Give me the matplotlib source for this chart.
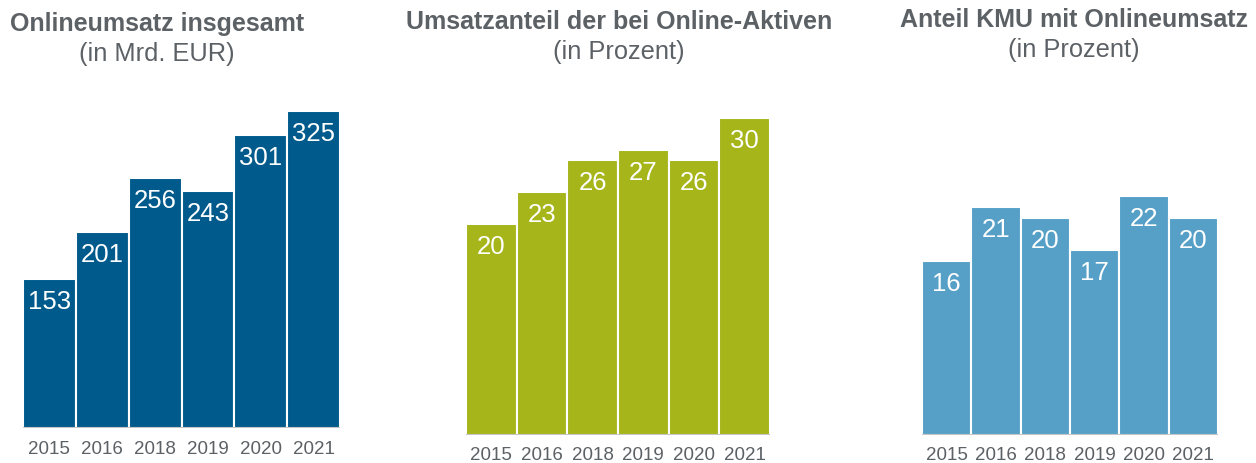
import matplotlib.pyplot as plt

plt.rcParams['font.family'] = ['Liberation Sans', 'DejaVu Sans']

W, H = 1256, 463

years = ['2015', '2016', '2018', '2019', '2020', '2021']
umsatz = [153, 201, 256, 243, 301, 325]
anteil_online = [20, 23, 26, 27, 26, 30]
anteil_kmu = [16, 21, 20, 17, 22, 20]

titles = ['Onlineumsatz insgesamt', 'Umsatzanteil der bei Online-Aktiven', 'Anteil KMU mit Onlineumsatz']
subtitles = ['(in Mrd. EUR)', '(in Prozent)', '(in Prozent)']
colors = ['#005A8C', '#A5B51A', '#56A0C8']
text_grey = '#5C6166'

# layout in pixels: left, right, baseline, px per unit
panels = [
    (23, 340, 428, 0.975),
    (466, 770, 435, 10.57),
    (922, 1218, 435, 10.86),
]
title_pos = [(157, 24, 54), (619, 22, 52), (1074, 20, 50)]
year_y = [449, 455, 455]

fig = plt.figure(figsize=(W / 100, H / 100), dpi=100)

for i, data in enumerate([umsatz, anteil_online, anteil_kmu]):
    left, right, base, scale = panels[i]
    top = 90
    ax = fig.add_axes([left / W, (H - base) / H, (right - left) / W, (base - top) / H])
    x = list(range(len(data)))
    ax.bar(x, data, width=1.0, color=colors[i], edgecolor='white', linewidth=1.5)
    ax.set_xlim(-0.5, len(data) - 0.5)
    ax.set_ylim(0, (base - top) / scale)
    ax.axhline(0, color='#BFBFBF', lw=2, zorder=3)
    for xi, v in zip(x, data):
        ax.annotate(str(v), (xi, v), xytext=(0, -23), textcoords='offset pixels',
                    ha='center', va='center', color='white', fontsize=18.5)
    ax.set_xticks(x)
    ax.set_xticklabels([])
    ax.tick_params(length=0)
    ax.set_yticks([])
    for s in ax.spines.values():
        s.set_visible(False)
    for xi, yr in zip(x, years):
        xp = left + (xi + 0.5) * (right - left) / len(data)
        fig.text(xp / W, 1 - year_y[i] / H, yr, ha='center', va='center',
                 color=text_grey, fontsize=13.5)
    cx, ty, sy = title_pos[i]
    fig.text(cx / W, 1 - ty / H, titles[i], ha='center', va='center',
             color=text_grey, fontsize=18, fontweight='bold')
    fig.text(cx / W, 1 - sy / H, subtitles[i], ha='center', va='center',
             color=text_grey, fontsize=18.3)

fig.savefig('out.png', dpi=100)
